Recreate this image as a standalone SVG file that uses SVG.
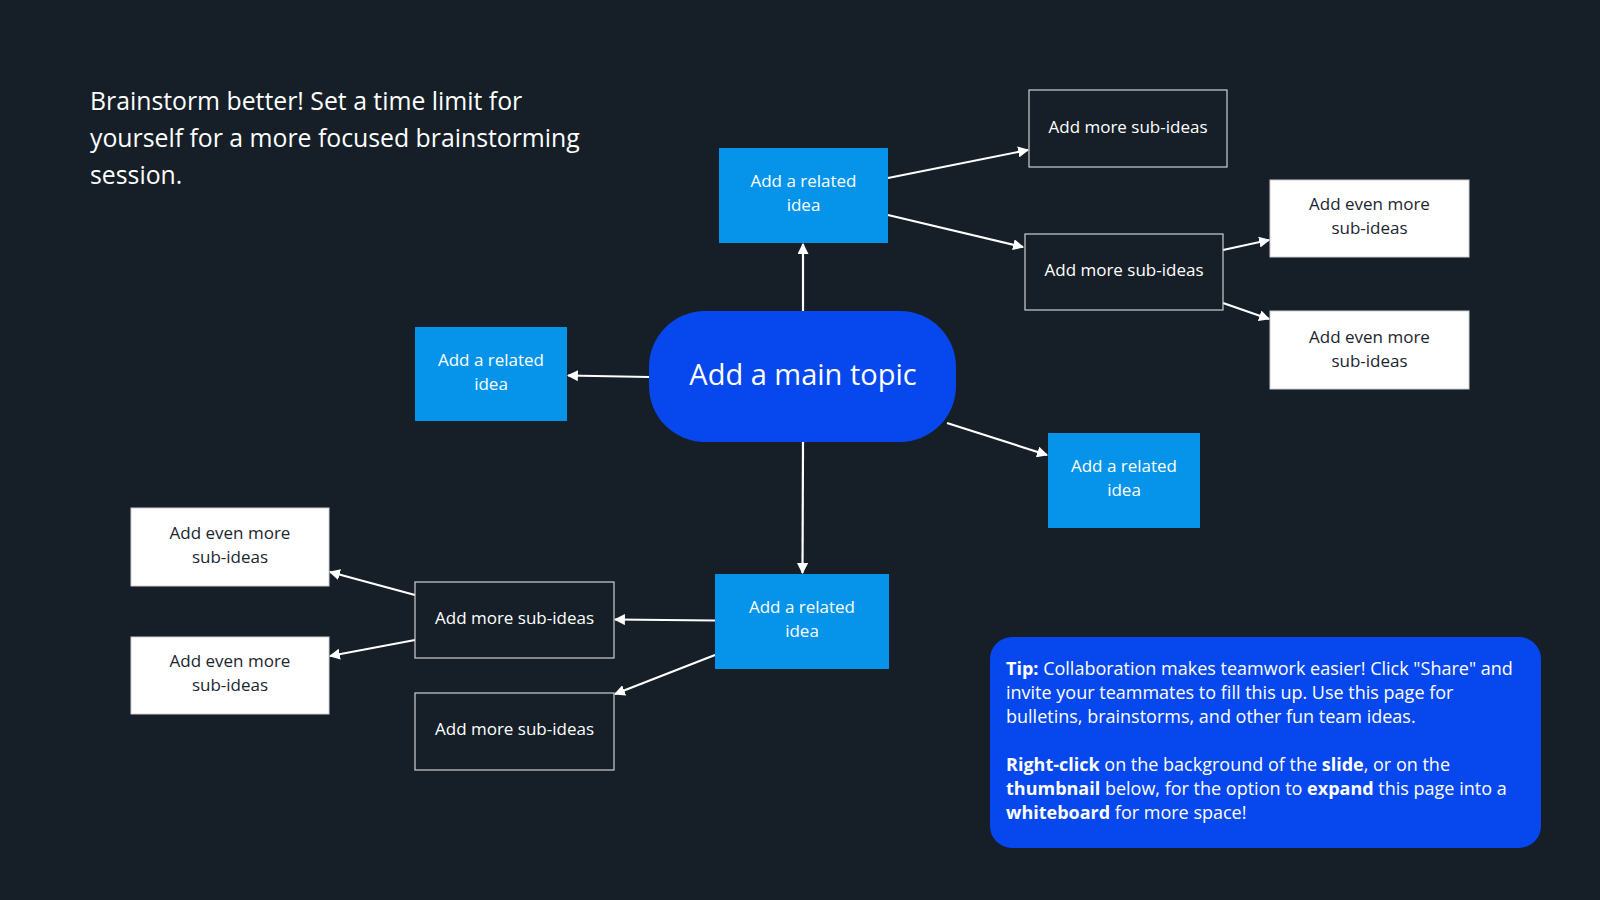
<svg xmlns="http://www.w3.org/2000/svg" width="1600" height="900" viewBox="0 0 1600 900">
<defs>
<marker id="ah" viewBox="0 0 10 10" refX="9" refY="5" markerWidth="5" markerHeight="5" orient="auto" markerUnits="strokeWidth">
<path d="M0,0 L10,5 L0,10 z" fill="#ffffff"/>
</marker>
<style>
.t{font-family:"Open Sans","Liberation Sans",sans-serif;fill:#ffffff}
.n{font-size:17px;text-anchor:middle}
.dt{fill:#1b2530}
.rel{fill:#0594ea}
.sub{fill:#161f28;stroke:#cfcfcf;stroke-width:1.2}
.even{fill:#ffffff;stroke:#d0d0d0;stroke-width:1}
.c{stroke:#ffffff;stroke-width:2.2;fill:none;marker-end:url(#ah)}
</style>
</defs>
<rect width="1600" height="900" fill="#161f28"/>

<g id="heading">
<text class="t" x="90" y="110" font-size="24.8">Brainstorm better! Set a time limit for</text>
<text class="t" x="90" y="147" font-size="24.8">yourself for a more focused brainstorming</text>
<text class="t" x="90" y="184" font-size="24.8">session.</text>
</g>

<g id="connectors">
<line class="c" x1="803" y1="311" x2="803" y2="244"/>
<line class="c" x1="649" y1="377" x2="568" y2="375.5"/>
<line class="c" x1="947" y1="423" x2="1047" y2="455"/>
<line class="c" x1="803" y1="442" x2="802.5" y2="573"/>
<line class="c" x1="888" y1="178" x2="1028" y2="150"/>
<line class="c" x1="888" y1="215" x2="1023" y2="247"/>
<line class="c" x1="1223" y1="250" x2="1269" y2="240"/>
<line class="c" x1="1223" y1="303" x2="1269" y2="319"/>
<line class="c" x1="715" y1="620.5" x2="615" y2="619.5"/>
<line class="c" x1="715" y1="655" x2="615" y2="694"/>
<line class="c" x1="415" y1="595" x2="330" y2="572"/>
<line class="c" x1="415" y1="640" x2="330" y2="656"/>
</g>

<g id="main-topic">
<rect x="649" y="311" width="307" height="131" rx="56" fill="#0748ee"/>
<text class="t" x="803" y="385" font-size="29" text-anchor="middle">Add a main topic</text>
</g>

<g id="related-top">
<rect class="rel" x="719" y="148" width="169" height="95"/>
<text class="t n" x="803.5" y="187">Add a related</text>
<text class="t n" x="803.5" y="211">idea</text>
</g>

<g id="related-left">
<rect class="rel" x="415" y="327" width="152" height="94"/>
<text class="t n" x="491" y="366">Add a related</text>
<text class="t n" x="491" y="390">idea</text>
</g>

<g id="related-right">
<rect class="rel" x="1048" y="433" width="152" height="95"/>
<text class="t n" x="1124" y="472">Add a related</text>
<text class="t n" x="1124" y="496">idea</text>
</g>

<g id="related-bottom">
<rect class="rel" x="715" y="574" width="174" height="95"/>
<text class="t n" x="802" y="613">Add a related</text>
<text class="t n" x="802" y="637">idea</text>
</g>

<g id="sub-top-1">
<rect class="sub" x="1029" y="90" width="198" height="77"/>
<text class="t n" x="1128" y="133">Add more sub-ideas</text>
</g>

<g id="sub-top-2">
<rect class="sub" x="1025" y="234" width="198" height="76"/>
<text class="t n" x="1124" y="276">Add more sub-ideas</text>
</g>

<g id="even-right-1">
<rect class="even" x="1270" y="180" width="199" height="77"/>
<text class="t n dt" x="1369.5" y="210">Add even more</text>
<text class="t n dt" x="1369.5" y="234">sub-ideas</text>
</g>

<g id="even-right-2">
<rect class="even" x="1270" y="311" width="199" height="78"/>
<text class="t n dt" x="1369.5" y="343">Add even more</text>
<text class="t n dt" x="1369.5" y="367">sub-ideas</text>
</g>

<g id="sub-bottom-1">
<rect class="sub" x="415" y="582" width="199" height="76"/>
<text class="t n" x="514.5" y="624">Add more sub-ideas</text>
</g>

<g id="sub-bottom-2">
<rect class="sub" x="415" y="693" width="199" height="77"/>
<text class="t n" x="514.5" y="735">Add more sub-ideas</text>
</g>

<g id="even-left-1">
<rect class="even" x="131" y="508" width="198" height="78"/>
<text class="t n dt" x="230" y="539">Add even more</text>
<text class="t n dt" x="230" y="563">sub-ideas</text>
</g>

<g id="even-left-2">
<rect class="even" x="131" y="637" width="198" height="77"/>
<text class="t n dt" x="230" y="667">Add even more</text>
<text class="t n dt" x="230" y="691">sub-ideas</text>
</g>

<g id="tip">
<rect x="990" y="637" width="551" height="211" rx="22" fill="#0748ee"/>
<text class="t" font-size="18">
<tspan x="1006" y="675"><tspan font-weight="bold">Tip:</tspan> Collaboration makes teamwork easier! Click "Share" and</tspan>
<tspan x="1006" y="699">invite your teammates to fill this up. Use this page for</tspan>
<tspan x="1006" y="723">bulletins, brainstorms, and other fun team ideas.</tspan>
<tspan x="1006" y="771"><tspan font-weight="bold">Right-click</tspan> on the background of the <tspan font-weight="bold">slide</tspan>, or on the</tspan>
<tspan x="1006" y="795"><tspan font-weight="bold">thumbnail</tspan> below, for the option to <tspan font-weight="bold">expand</tspan> this page into a</tspan>
<tspan x="1006" y="819"><tspan font-weight="bold">whiteboard</tspan> for more space!</tspan>
</text>
</g>
</svg>
